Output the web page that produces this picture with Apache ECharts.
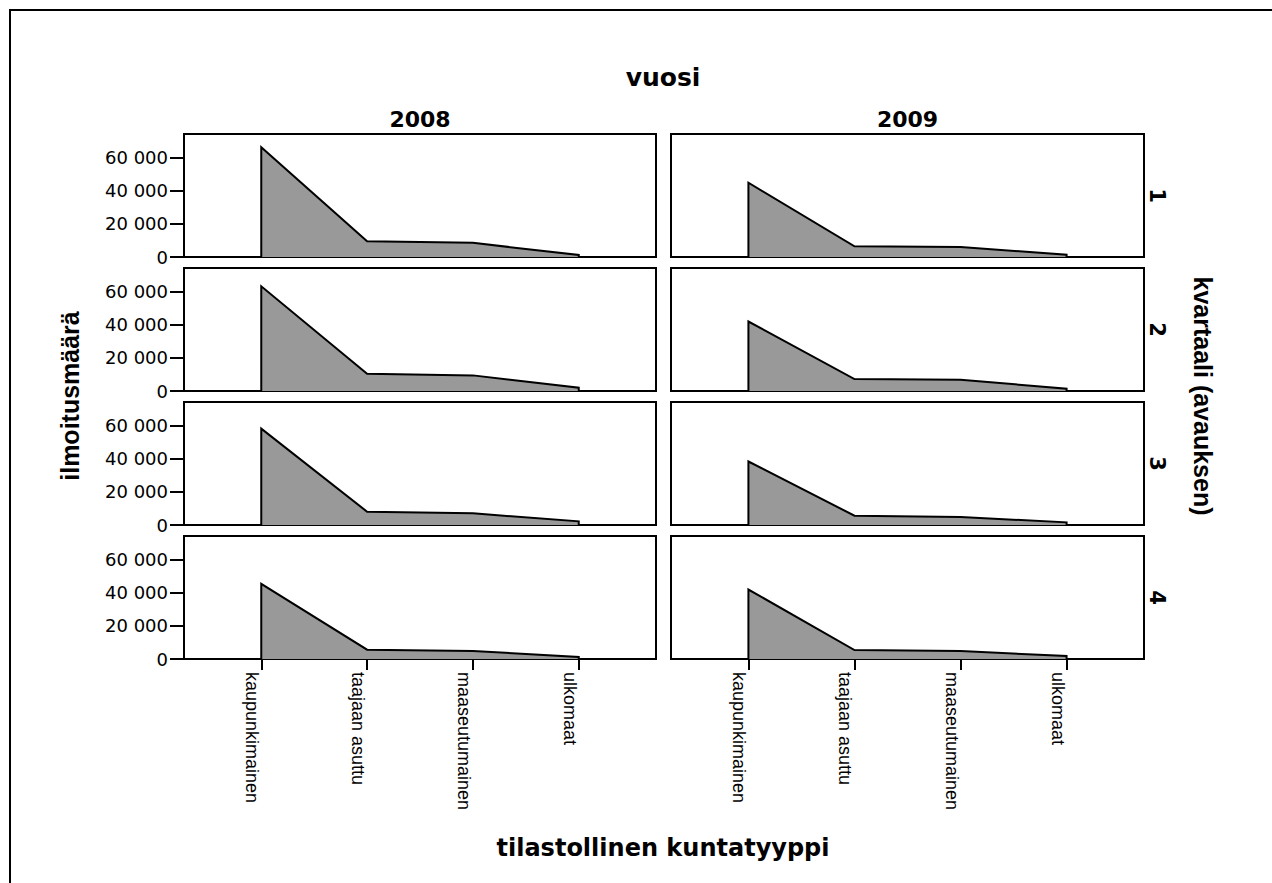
<!DOCTYPE html>
<html>
<head>
<meta charset="utf-8">
<script src="https://cdn.jsdelivr.net/npm/echarts@6/dist/echarts.min.js"></script>
<style>
html,body{margin:0;padding:0;background:#fff;}
#chart{width:1272px;height:883px;}
</style>
</head>
<body>
<div id="chart"></div>
<script>
// ---- data ----
const categories = ['kaupunkimainen', 'taajaan asuttu', 'maaseutumainen', 'ulkomaat'];
const years = ['2008', '2009'];
const quarters = ['1', '2', '3', '4'];
const yTicks = [0, 20000, 40000, 60000];

const q1_2008 = [66000, 9500, 8500, 1200];
const q2_2008 = [63000, 10400, 9400, 2000];
const q3_2008 = [58000, 8000, 7000, 2200];
const q4_2008 = [45200, 5600, 4800, 1200];
const q1_2009 = [44700, 6400, 6000, 1400];
const q2_2009 = [41800, 7200, 6800, 1400];
const q3_2009 = [38200, 5600, 4800, 1600];
const q4_2009 = [41800, 5400, 4800, 1800];

const panelValues = {
  '2008': [q1_2008, q2_2008, q3_2008, q4_2008],
  '2009': [q1_2009, q2_2009, q3_2009, q4_2009]
};

// ---- layout ----
const colLeft = [184, 671];
const colWidth = [472, 473];
const rowTop = [134, 268, 402, 536];
const rowHeight = 123;
const yMax = 74000;

function fmt(v) {
  return String(v).replace(/\B(?=(\d{3})+(?!\d))/g, ' ');
}

const grids = [], xAxes = [], yAxes = [], series = [];
let idx = 0;
years.forEach((yr, c) => {
  quarters.forEach((q, r) => {
    const bottomRow = r === quarters.length - 1;
    const leftCol = c === 0;
    grids.push({
      left: colLeft[c], top: rowTop[r], width: colWidth[c], height: rowHeight,
      show: true, borderColor: '#000', borderWidth: 2, backgroundColor: '#fff'
    });
    const catIdx = categories.map((_, i) => i);
    xAxes.push({
      gridIndex: idx, type: 'value', min: -0.73, max: categories.length - 1 + 0.73,
      axisLine: { show: false, onZero: false }, splitLine: { show: false },
      axisTick: { show: bottomRow, customValues: catIdx, length: 11, lineStyle: { color: '#000', width: 2 } },
      axisLabel: {
        show: bottomRow, customValues: catIdx, rotate: -90, margin: 13,
        verticalAlign: 'top',
        formatter: v => categories[Math.round(v)] || '',
        fontFamily: 'Liberation Sans', fontSize: 18, color: '#000'
      }
    });
    yAxes.push({
      gridIndex: idx, type: 'value', min: 0, max: yMax,
      axisLine: { show: false, onZero: false }, splitLine: { show: false },
      axisTick: { show: leftCol, customValues: yTicks, length: 14, lineStyle: { color: '#000', width: 2 } },
      axisLabel: {
        show: leftCol, customValues: yTicks, margin: 16,
        formatter: v => fmt(v),
        fontFamily: 'DejaVu Sans', fontSize: 18, color: '#000'
      }
    });
    const vals = panelValues[yr][r];
    const pts = [[0, 0]].concat(vals.map((v, i) => [i, v])).concat([[vals.length - 1, 0]]);
    series.push({
      type: 'line', xAxisIndex: idx, yAxisIndex: idx, data: pts,
      symbol: 'none', silent: true, animation: false,
      lineStyle: { color: '#000', width: 2, join: 'miter' },
      areaStyle: { color: '#999999', opacity: 1 }
    });
    idx++;
  });
});

const graphics = [
  { type: 'rect', shape: { x: 10, y: 10, width: 1400, height: 1000 },
    style: { fill: 'none', stroke: '#000', lineWidth: 2 }, silent: true, z: 0 },
  { type: 'text', x: 663, y: 77,
    style: { text: 'vuosi', fill: '#000', font: 'bold 25px "DejaVu Sans"', textAlign: 'center', verticalAlign: 'middle', textVerticalAlign: 'middle' } },
  { type: 'text', x: 663, y: 848,
    style: { text: 'tilastollinen kuntatyyppi', fill: '#000', font: 'bold 24px "DejaVu Sans"', textAlign: 'center', verticalAlign: 'middle', textVerticalAlign: 'middle' } },
  { type: 'text', x: 70, y: 396, rotation: Math.PI / 2,
    style: { text: 'ilmoitusmäärä', fill: '#000', font: 'bold 25px "Liberation Sans"', textAlign: 'center', verticalAlign: 'middle', textVerticalAlign: 'middle' } },
  { type: 'text', x: 1203, y: 396, rotation: -Math.PI / 2,
    style: { text: 'kvartaali (avauksen)', fill: '#000', font: 'bold 25px "Liberation Sans"', textAlign: 'center', verticalAlign: 'middle', textVerticalAlign: 'middle' } }
];
years.forEach((yr, c) => {
  graphics.push({ type: 'text', x: colLeft[c] + colWidth[c] / 2, y: 119,
    style: { text: yr, fill: '#000', font: 'bold 22px "DejaVu Sans"', textAlign: 'center', verticalAlign: 'middle', textVerticalAlign: 'middle' } });
});
quarters.forEach((q, r) => {
  graphics.push({ type: 'text', x: 1157, y: rowTop[r] + rowHeight / 2, rotation: -Math.PI / 2,
    style: { text: q, fill: '#000', font: 'bold 21px "DejaVu Sans"', textAlign: 'center', verticalAlign: 'middle', textVerticalAlign: 'middle' } });
});

const chart = echarts.init(document.getElementById('chart'), null, { renderer: 'svg' });
chart.setOption({
  animation: false,
  backgroundColor: '#fff',
  grid: grids, xAxis: xAxes, yAxis: yAxes, series: series,
  graphic: graphics
});
</script>
</body>
</html>
